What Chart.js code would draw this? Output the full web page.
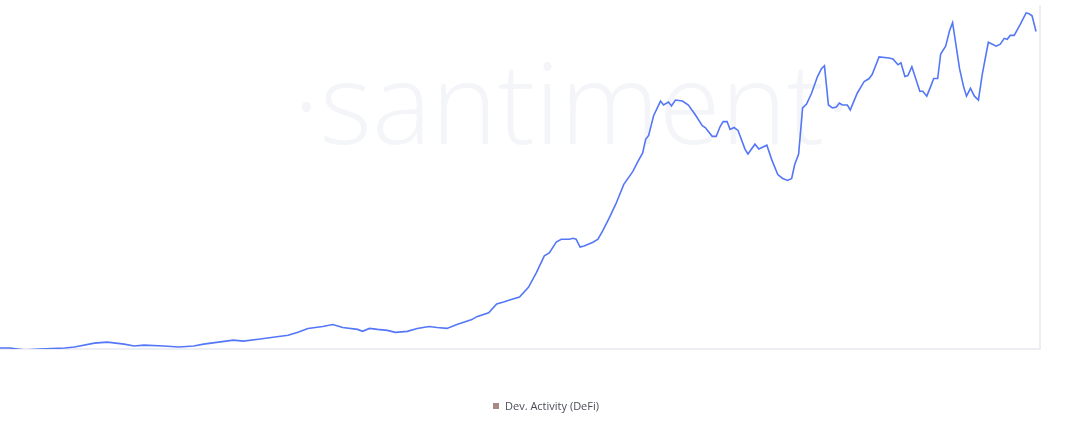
<!DOCTYPE html>
<html>
<head>
<meta charset="utf-8">
<script src="https://cdn.jsdelivr.net/npm/chart.js@4/dist/chart.umd.min.js"></script>
<style>
  html, body { margin: 0; padding: 0; background: #fff; }
  #wrap { position: relative; width: 1092px; height: 430px; }
  #legend { position: absolute; top: 398px; left: 0; width: 1092px; text-align: center;
            font: 11px 'Open Sans', sans-serif; color: #4a4d57; }
  #legend i { display: inline-block; width: 6px; height: 6px; background: #a88a84; margin-right: 6px; vertical-align: 1px; }
</style>
</head>
<body>
<div id="wrap">
  <canvas id="c"></canvas>
  <div id="legend"><i></i>Dev. Activity (DeFi)</div>
</div>
<script>
// x position (day index) and dev activity value
const days = [0,10,25,40,65,75,95,108,125,135,145,165,180,195,205,220,235,245,260,275,290,300,310,325,335,345,360,365,372,380,390,398,410,420,432,440,450,460,475,480,492,500,507,513,523,532,540,548,553,560,565,573,577,580,584,588,597,602,607,613,620,628,637,642,647,650,653,658,665,668,673,676,680,687,693,700,707,710,717,721,725,728,732,735,739,743,750,753,760,764,772,777,783,788,793,797,800,804,808,812,817,823,827,830,834,838,842,845,848,853,856,863,870,875,878,885,895,899,904,907,911,914,918,926,929,933,937,940,944,947,952,956,959,966,970,973,977,981,985,989,995,1003,1007,1011,1014,1017,1021,1027,1033,1036,1039,1043];
const ypix = [355,355,357,356,355,354,350,349,351,353,352,353,354,353,351,349,347,348,346,344,342,339,335,333,331,334,336,338,335,336,337,339,338,335,333,334,335,331,326,323,319,310,308,306,303,293,278,261,258,247,244,244,243,244,252,251,247,244,235,223,208,188,175,165,156,142,138,118,103,107,104,108,102,103,107,117,128,130,139,139,129,124,124,132,130,133,152,157,147,152,148,163,178,182,184,182,168,157,110,106,95,78,70,67,107,110,109,105,107,107,112,95,83,80,76,58,59,60,66,64,78,77,68,93,93,98,88,80,80,55,47,31,23,70,88,98,90,98,102,75,43,47,45,39,40,36,36,25,13,14,16,32];
const values = ypix.map((y) => 356 - y);
const seriesLabel = "Dev. Activity (DeFi)";

const AXIS = "#eceef4";

const watermark = {
  id: "watermark",
  beforeDatasetsDraw(chart) {
    const { ctx } = chart;
    ctx.save();
    ctx.font = "300 112px 'Open Sans', sans-serif";
    ctx.fillStyle = "#f4f5f8";
    ctx.textAlign = "center";
    ctx.textBaseline = "middle";
    ctx.fillText("·santiment·", 572, 112);
    ctx.restore();
  },
};

new Chart(document.getElementById("c"), {
  type: "line",
  data: {
    datasets: [{
      label: seriesLabel,
      data: days.map((d, i) => ({ x: d, y: values[i] })),
      borderColor: "#5477f7",
      borderWidth: 1.6,
      pointRadius: 0,
      tension: 0,
      fill: false,
    }],
  },
  options: {
    responsive: true,
    maintainAspectRatio: false,
    animation: false,
    layout: { padding: { left: 0, right: 44, top: 6, bottom: 73 } },
    plugins: { legend: { display: false }, tooltip: { enabled: false } },
    scales: {
      x: {
        type: "linear", min: 0, max: 1047,
        grid: { display: false },
        ticks: { display: false },
        border: { color: AXIS, width: 2 },
      },
      y: {
        position: "right", min: 0, max: 350,
        grid: { display: false },
        ticks: { display: false },
        border: { color: AXIS, width: 2 },
      },
    },
  },
  plugins: [watermark],
});
</script>
</body>
</html>
